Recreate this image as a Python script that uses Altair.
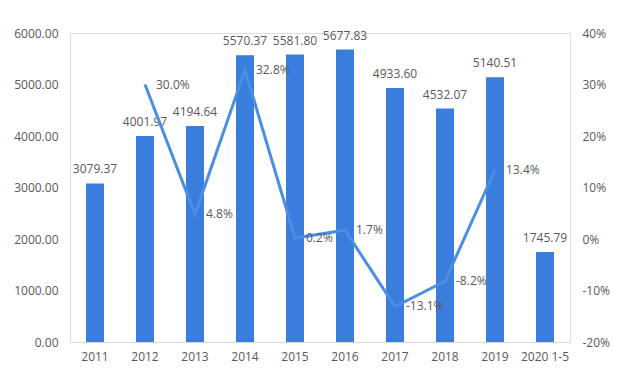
import altair as alt
import pandas as pd

categories = ["2011", "2012", "2013", "2014", "2015", "2016", "2017", "2018", "2019", "2020 1-5"]
values = [3079.37, 4001.97, 4194.64, 5570.37, 5581.80, 5677.83, 4933.60, 4532.07, 5140.51, 1745.79]
growth = [None, 0.300, 0.048, 0.328, 0.002, 0.017, -0.131, -0.082, 0.134, None]

df = pd.DataFrame({"cat": categories, "val": values, "g": growth})
line_df = df.dropna(subset=["g"]).copy()
line_df["lbl"] = [f"{v * 100:.1f}%" for v in line_df["g"]]

FONT = "Open Sans"
TXT = "#595959"
BAR = "#3a7ddc"
LINE = "#4a8fe3"

xenc = alt.X("cat:N", sort=categories,
             scale=alt.Scale(paddingInner=0.64, paddingOuter=0.32),
             axis=alt.Axis(title=None, labelAngle=0, ticks=False, domainColor="#d9d9d9",
                           labelPadding=9, labelColor=TXT, labelFont=FONT, labelFontSize=12))

yl = alt.Y("val:Q", scale=alt.Scale(domain=[0, 6000]),
           axis=alt.Axis(title=None, orient="left", values=[0, 1000, 2000, 3000, 4000, 5000, 6000],
                         format=".2f", grid=False, ticks=False, domain=False, labelPadding=12,
                         labelColor=TXT, labelFont=FONT, labelFontSize=12))

bars = alt.Chart(df).mark_bar(color=BAR).encode(x=xenc, y=yl)
bar_text = alt.Chart(df).mark_text(baseline="bottom", dy=-7, color=TXT, font=FONT, fontSize=12).encode(
    x=alt.X("cat:N", sort=categories), y=alt.Y("val:Q"), text=alt.Text("val:Q", format=".2f"))

yr = alt.Y("g:Q", scale=alt.Scale(domain=[-0.2, 0.4]),
           axis=alt.Axis(title=None, orient="right", values=[-0.2, -0.1, 0, 0.1, 0.2, 0.3, 0.4],
                         labelExpr="(datum.value < 0 ? '-' : '') + format(abs(datum.value), '.0%')",
                         grid=False, ticks=False, domain=False, labelPadding=12,
                         labelColor=TXT, labelFont=FONT, labelFontSize=12))

line = alt.Chart(line_df).mark_line(color=LINE, strokeWidth=3).encode(
    x=alt.X("cat:N", sort=categories), y=yr)
line_text = alt.Chart(line_df).mark_text(align="left", baseline="middle", dx=11, color=TXT,
                                         font=FONT, fontSize=12).encode(
    x=alt.X("cat:N", sort=categories), y=alt.Y("g:Q"), text="lbl:N")

chart = alt.layer(alt.layer(bars, bar_text), alt.layer(line, line_text)).resolve_scale(
    y="independent"
).properties(
    width=500, height=309,
    autosize=alt.AutoSizeParams(type="none"),
    padding={"left": 62, "top": 25, "right": 50, "bottom": 30},
).configure_view(stroke=None).configure(background="white")

chart.save("out.html", embed_options={"renderer": "svg", "actions": False})
